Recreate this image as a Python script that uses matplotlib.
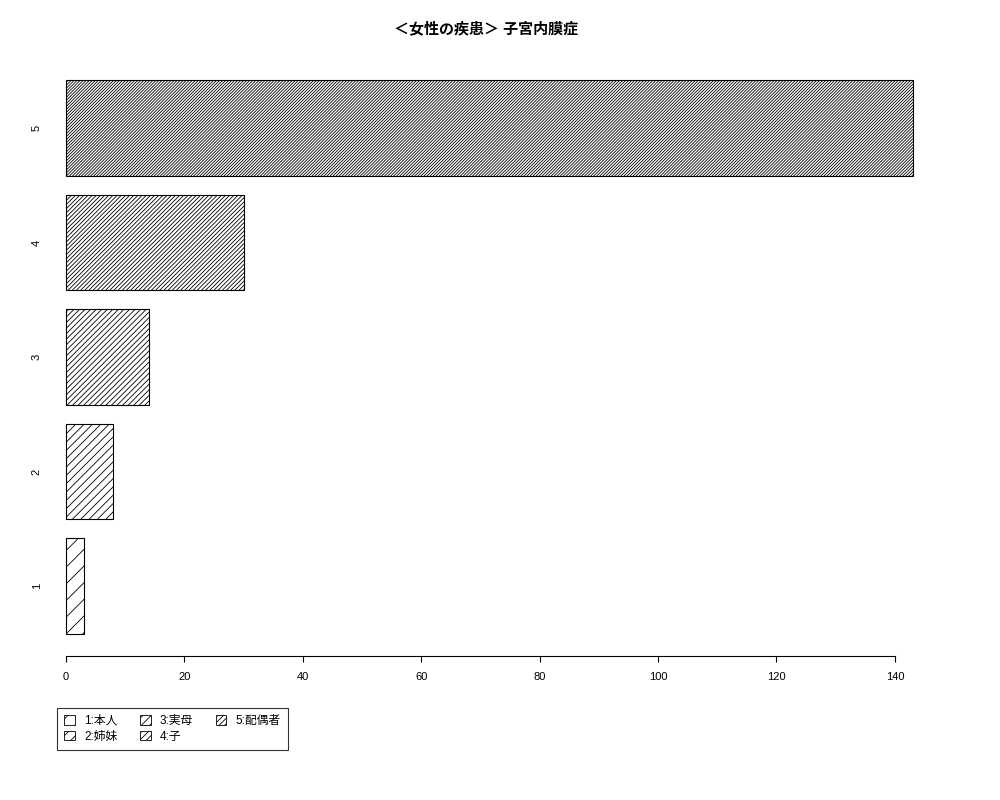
import numpy as np
import matplotlib
matplotlib.use("Agg")
import matplotlib.pyplot as plt
from matplotlib.patches import Patch

plt.rcParams['font.family'] = ['Liberation Sans', 'Noto Sans CJK JP', 'DejaVu Sans']
plt.rcParams['hatch.linewidth'] = 0.6

# data
categories = ["1", "2", "3", "4", "5"]
values = [3, 8, 14, 30, 143]
legend_labels = ["1:本人", "2:姉妹", "3:実母", "4:子", "5:配偶者"]
hatches = ["//", "////", "//////", "////////", "///////////"]
title = "＜女性の疾患＞ 子宮内膜症"

fig = plt.figure(figsize=(10, 8), dpi=100)
ax = fig.add_axes([0.05, 0.18, 0.897, 0.7475])

# bar positions like R barplot (width 1, space 0.2)
ypos = 0.7 + 1.2 * np.arange(len(values))
for y, v, h in zip(ypos, values, hatches):
    ax.barh(y, v, height=1.0, color="white", edgecolor="black",
            linewidth=0.8, hatch=h)

ax.set_xlim(-2.7, 148.8)
ax.set_ylim(-0.032, 6.232)

for s in ["top", "right", "left"]:
    ax.spines[s].set_visible(False)
ax.spines["bottom"].set_bounds(0, 140)
ax.spines["bottom"].set_linewidth(0.8)

ax.set_xticks(np.arange(0, 141, 20))
ax.tick_params(axis="x", length=4.3, width=0.8, pad=7, labelsize=8)
ax.set_yticks(ypos)
ax.set_yticklabels(categories, rotation=90, va="center")
ax.tick_params(axis="y", length=0, pad=6, labelsize=8)

fig.text(0.486, 0.964, title, ha="center", va="center",
         fontsize=10.8, fontweight="bold")

# legend under the plot
handles = [Patch(facecolor="white", edgecolor="black", linewidth=0.6, hatch=h)
           for h in ["//", "///", "////", "/////", "//////"]]
leg = fig.legend(handles, legend_labels, ncol=3, loc="upper left",
                 bbox_to_anchor=(0.057, 0.115), borderaxespad=0,
                 fontsize=8.5, fancybox=False, edgecolor="black",
                 handlelength=0.9, handleheight=0.9, handletextpad=0.8,
                 columnspacing=1.9, labelspacing=0.3, borderpad=0.6)
leg.get_frame().set_linewidth(0.8)

plt.savefig("out.png", dpi=100)
